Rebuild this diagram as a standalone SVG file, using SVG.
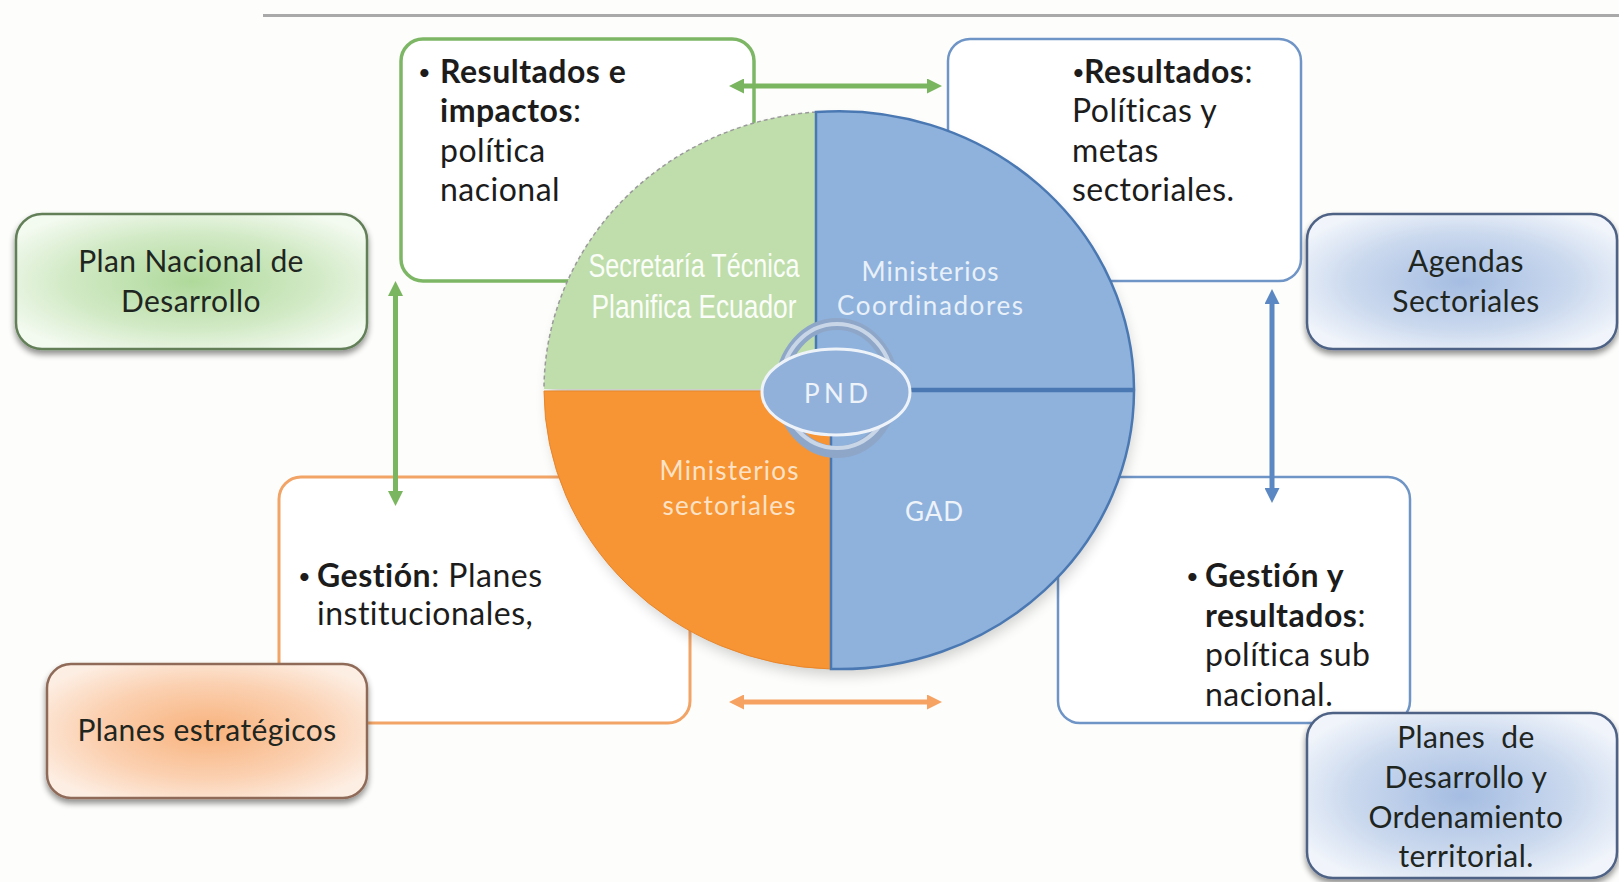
<svg xmlns="http://www.w3.org/2000/svg" width="1619" height="882" viewBox="0 0 1619 882">
<defs>
<style>
.body{font-family:Lato,"Liberation Sans",sans-serif;font-size:32px;letter-spacing:0.5px;fill:#1c1c1c}
.bl{font-size:22px}
.b{font-weight:700}
.card{fill:#ffffff}
.cg{stroke:#7db766;stroke-width:3.5}
.cb{stroke:#6f95c6;stroke-width:2.5}
.co{stroke:#f2a466;stroke-width:3}
.node{stroke-width:2.5;filter:url(#shadow)}
.nt{font-family:Lato,"Liberation Sans",sans-serif;font-size:30px;letter-spacing:0.4px;fill:#1f261f;text-anchor:middle}
.ql{font-family:Lato,"Liberation Sans",sans-serif;font-size:26px;text-anchor:middle}
.cond{font-family:"Liberation Sans",Arial,sans-serif;font-size:33px;fill:#fbfdf8;text-anchor:middle}
.arrow{fill:none;stroke-width:5}
</style>
<radialGradient id="gGreen" cx="50%" cy="50%" r="60%">
<stop offset="0" stop-color="#afd99b"/>
<stop offset="0.6" stop-color="#d2eac6"/>
<stop offset="1" stop-color="#f3faf0"/>
</radialGradient>
<radialGradient id="gBlue" cx="50%" cy="50%" r="60%">
<stop offset="0" stop-color="#a5bde2"/>
<stop offset="0.6" stop-color="#cbd9ee"/>
<stop offset="1" stop-color="#f1f5fb"/>
</radialGradient>
<radialGradient id="gOrange" cx="50%" cy="50%" r="60%">
<stop offset="0" stop-color="#f8b27c"/>
<stop offset="0.6" stop-color="#fbd1b2"/>
<stop offset="1" stop-color="#fdeee3"/>
</radialGradient>
<filter id="shadow" x="-10%" y="-10%" width="120%" height="135%">
<feGaussianBlur in="SourceAlpha" stdDeviation="3"/>
<feOffset dx="0" dy="4" result="o"/>
<feComponentTransfer><feFuncA type="linear" slope="0.45"/></feComponentTransfer>
<feMerge><feMergeNode/><feMergeNode in="SourceGraphic"/></feMerge>
</filter>
<filter id="blur8" x="-10%" y="-10%" width="120%" height="120%">
<feGaussianBlur stdDeviation="7"/>
</filter>
<marker id="mG" viewBox="0 0 10 10" refX="6" refY="5" markerWidth="3" markerHeight="3" orient="auto-start-reverse">
<path d="M0,0 L10,5 L0,10 z" fill="#7ab55f"/>
</marker>
<marker id="mB" viewBox="0 0 10 10" refX="6" refY="5" markerWidth="3" markerHeight="3" orient="auto-start-reverse">
<path d="M0,0 L10,5 L0,10 z" fill="#5b87c2"/>
</marker>
<marker id="mO" viewBox="0 0 10 10" refX="6" refY="5" markerWidth="3" markerHeight="3" orient="auto-start-reverse">
<path d="M0,0 L10,5 L0,10 z" fill="#f5a263"/>
</marker>
</defs>

<rect x="0" y="0" width="1619" height="882" fill="#fdfdfb"/>
<line x1="263" y1="15.5" x2="1619" y2="15.5" stroke="#a9a9a9" stroke-width="3"/>

<g id="box-resultados-impactos">
<rect class="card cg" x="401" y="39" width="353" height="242" rx="22"/>
<text class="body"><tspan x="418" y="80" class="bl">•</tspan><tspan x="440" y="83" class="b">Resultados e</tspan><tspan x="440" y="122" class="b">impactos</tspan><tspan>:</tspan><tspan x="440" y="162">política</tspan><tspan x="440" y="201">nacional</tspan></text>
</g>

<g id="box-resultados-sectoriales">
<rect class="card cb" x="948" y="39" width="353" height="242" rx="22"/>
<text class="body"><tspan x="1072" y="80" class="bl">•</tspan><tspan x="1084" y="83" class="b">Resultados</tspan><tspan>:</tspan><tspan x="1072" y="122">Políticas y</tspan><tspan x="1072" y="162">metas</tspan><tspan x="1072" y="201">sectoriales.</tspan></text>
</g>

<g id="box-gestion">
<rect class="card co" x="279" y="477" width="411" height="246" rx="22"/>
<text class="body"><tspan x="298" y="584" class="bl">•</tspan><tspan x="317" y="587" class="b">Gestión</tspan><tspan>: Planes</tspan><tspan x="317" y="625">institucionales,</tspan></text>
</g>

<g id="box-gestion-resultados">
<rect class="card cb" x="1058" y="477" width="352" height="246" rx="22"/>
<text class="body"><tspan x="1186" y="584" class="bl">•</tspan><tspan x="1205" y="587" class="b">Gestión y</tspan><tspan x="1205" y="627" class="b">resultados</tspan><tspan>:</tspan><tspan x="1205" y="666">política sub</tspan><tspan x="1205" y="706">nacional.</tspan></text>
</g>

<g id="node-plan-nacional">
<rect class="node" x="16" y="214" width="351" height="135" rx="26" fill="url(#gGreen)" stroke="#627f59"/>
<text class="nt"><tspan x="191" y="272">Plan Nacional de</tspan><tspan x="191" y="312">Desarrollo</tspan></text>
</g>

<g id="node-agendas">
<rect class="node" x="1307" y="214" width="310" height="135" rx="26" fill="url(#gBlue)" stroke="#4e6285"/>
<text class="nt"><tspan x="1466" y="272">Agendas</tspan><tspan x="1466" y="312">Sectoriales</tspan></text>
</g>

<g id="node-planes-estrategicos">
<rect class="node" x="47" y="664" width="320" height="134" rx="24" fill="url(#gOrange)" stroke="#8f6b58"/>
<text class="nt" x="207" y="741">Planes estratégicos</text>
</g>

<g id="node-planes-desarrollo">
<rect class="node" x="1307" y="713" width="310" height="165" rx="26" fill="url(#gBlue)" stroke="#4e6285"/>
<text class="nt"><tspan x="1466" y="748" xml:space="preserve">Planes  de</tspan><tspan x="1466" y="788">Desarrollo y</tspan><tspan x="1466" y="828">Ordenamiento</tspan><tspan x="1466" y="867">territorial.</tspan></text>
</g>

<ellipse cx="842" cy="398" rx="293" ry="277" fill="#000" opacity="0.18" filter="url(#blur8)"/>

<g id="q-secretaria">
<path d="M816,389 L816,112 A295,279 0 0 0 544,389 Z" fill="#bfdeac"/>
<path d="M816,112 A295,279 0 0 0 544,389" fill="none" stroke="#9a9a9a" stroke-width="1.5" stroke-dasharray="4 3"/>
<text class="cond" x="694" y="277" textLength="211" lengthAdjust="spacingAndGlyphs">Secretaría Técnica</text>
<text class="cond" x="694" y="318" textLength="205" lengthAdjust="spacingAndGlyphs">Planifica Ecuador</text>
</g>

<g id="q-coordinadores">
<path d="M816,389 L816,112 A295,279 0 0 1 1134,389 Z" fill="#8fb2dc" stroke="#4a78b2" stroke-width="2.5"/>
<text class="ql" x="930" y="281" fill="#e8f0f9" textLength="137" lengthAdjust="spacing">Ministerios</text>
<text class="ql" x="930" y="315" fill="#e8f0f9" textLength="186" lengthAdjust="spacing">Coordinadores</text>
</g>

<g id="q-sectoriales">
<path d="M831,391 L544,391 A295,279 0 0 0 831,669 Z" fill="#f79434" stroke="#e9862a" stroke-width="1"/>
<text class="ql" x="729" y="480" fill="#fde2c6" textLength="139" lengthAdjust="spacing">Ministerios</text>
<text class="ql" x="729" y="515" fill="#fde2c6" textLength="133" lengthAdjust="spacing">sectoriales</text>
</g>

<g id="q-gad">
<path d="M831,391 L831,669 A295,279 0 0 0 1134,391 Z" fill="#8fb2dc" stroke="#4a78b2" stroke-width="2.5"/>
<text class="ql" x="934" y="521" fill="#eef3fa" font-size="27" textLength="58" lengthAdjust="spacing">GAD</text>
</g>

<g id="pnd">
<ellipse cx="837" cy="388" rx="56" ry="64" fill="none" stroke="#8ea7c9" stroke-width="12"/>
<ellipse cx="837" cy="386" rx="56" ry="62" fill="none" stroke="#c9d6e8" stroke-width="4"/>
<ellipse cx="836" cy="392" rx="74" ry="43" fill="#91b1da" stroke="#eef3f9" stroke-width="3"/>
<text class="ql" x="836" y="403" fill="#eef3fa" font-size="28" textLength="64" lengthAdjust="spacing">PND</text>
</g>

<g id="connectors">
<path class="arrow" d="M735,86 L936,86" stroke="#7ab55f" marker-start="url(#mG)" marker-end="url(#mG)"/>
<path class="arrow" d="M735,702 L936,702" stroke="#f5a263" marker-start="url(#mO)" marker-end="url(#mO)"/>
<path class="arrow" d="M395.5,287 L395.5,500" stroke="#7ab55f" marker-start="url(#mG)" marker-end="url(#mG)"/>
<path class="arrow" d="M1272,295 L1272,497" stroke="#5b87c2" marker-start="url(#mB)" marker-end="url(#mB)"/>
</g>
</svg>
